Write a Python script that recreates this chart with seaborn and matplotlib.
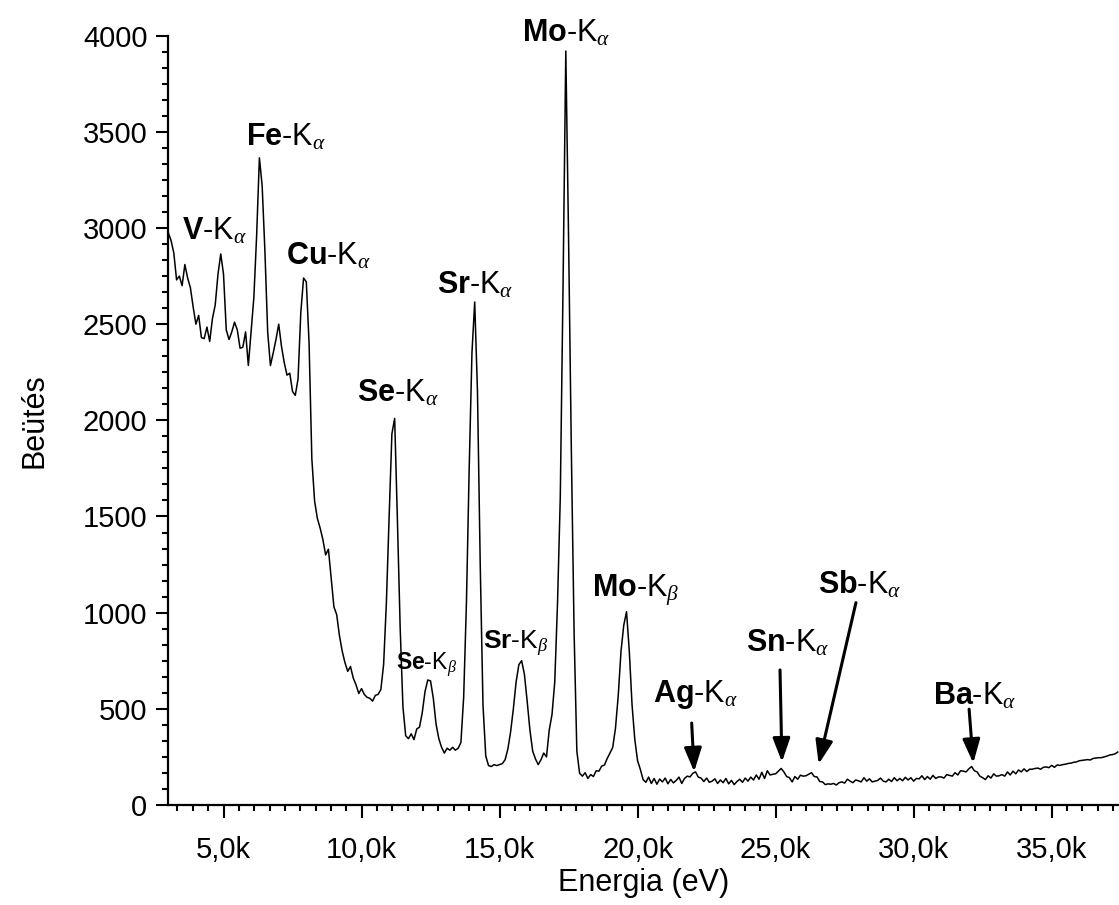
import numpy as np
import seaborn as sns
from matplotlib import pyplot as plt
from matplotlib.ticker import MultipleLocator, AutoMinorLocator, FuncFormatter

# * XRF spectrum, one count value per 100 eV channel, starting at 3000 eV
E_START = 3000
E_STEP = 100
counts = [
    2975, 2935, 2870, 2730, 2750, 2700, 2810, 2740, 2690, 2590,  # 3k
    2500, 2545, 2430, 2425, 2485, 2410, 2530, 2600, 2760, 2865,  # 4k
    2760, 2470, 2420, 2460, 2510, 2470, 2375, 2380, 2460, 2285,  # 5k
    2460, 2640, 2960, 3365, 3220, 2880, 2460, 2285, 2350, 2420,  # 6k
    2500, 2385, 2300, 2235, 2245, 2150, 2130, 2215, 2560, 2740,  # 7k
    2720, 2400, 1800, 1580, 1490, 1440, 1380, 1300, 1330, 1180,  # 8k
    1030, 990, 880, 800, 740, 695, 720, 660, 625, 580,  # 9k
    605, 575, 560, 555, 540, 570, 575, 600, 730, 1050,  # 10k
    1500, 1930, 2010, 1480, 920, 510, 360, 345, 370, 340,  # 11k
    395, 405, 480, 590, 650, 645, 555, 420, 345, 300,  # 12k
    270, 295, 285, 300, 285, 295, 325, 560, 1050, 1750,  # 13k
    2350, 2615, 2150, 1250, 520, 255, 205, 200, 210, 205,  # 14k
    210, 215, 235, 290, 380, 500, 640, 730, 750, 680,  # 15k
    540, 390, 280, 240, 210, 235, 270, 250, 390, 470,  # 16k
    640, 1050, 1600, 2700, 3920, 2950, 1850, 900, 280, 165,  # 17k
    150, 168, 138, 158, 148, 178, 176, 202, 208, 242,  # 18k
    270, 300, 400, 570, 800, 935, 1005, 800, 520, 340,  # 19k
    230, 185, 132, 118, 145, 112, 138, 108, 135, 120,  # 20k
    140, 110, 133, 115, 128, 145, 112, 138, 150, 146,  # 21k
    165, 172, 145, 140, 122, 140, 118, 124, 136, 112,  # 22k
    130, 116, 138, 110, 128, 106, 122, 134, 118, 140,  # 23k
    124, 145, 130, 156, 134, 170, 138, 178, 156, 160,  # 24k
    162, 176, 190, 172, 148, 142, 120, 148, 134, 155,  # 25k
    150, 152, 160, 168, 148, 146, 122, 120, 106, 110,  # 26k
    108, 112, 104, 116, 120, 114, 134, 124, 116, 130,  # 27k
    126, 120, 142, 124, 136, 120, 124, 128, 140, 124,  # 28k
    120, 134, 122, 142, 126, 138, 126, 144, 130, 142,  # 29k
    124, 138, 136, 152, 132, 148, 134, 154, 138, 146,  # 30k
    146, 140, 158, 154, 150, 168, 156, 178, 176, 172,  # 31k
    188, 200, 178, 172, 150, 142, 132, 152, 140, 162,  # 32k
    150, 152, 158, 150, 172, 156, 176, 162, 182, 172,  # 33k
    188, 174, 186, 186, 190, 192, 186, 196, 198, 194,  # 34k
    206, 196, 208, 206, 210, 212, 216, 218, 222, 224,  # 35k
    230, 232, 234, 236, 234, 242, 244, 246, 246, 250,  # 36k
    254, 260, 262, 266, 276,  # 37k
]
energy = E_START + E_STEP * np.arange(len(counts))

# * peak labels: bold element, line, label x [eV], label baseline y [counts], font size
label_elem = ["V", "Fe", "Cu", "Se", "Sr", "Mo", "Se", "Sr", "Mo", "Ag", "Sn", "Sb", "Ba"]
label_line = ["alpha", "alpha", "alpha", "alpha", "alpha", "alpha", "beta", "beta", "beta",
              "alpha", "alpha", "alpha", "alpha"]
label_x = [3480, 5830, 7260, 9830, 12730, 15810, 11240, 14400, 18340, 20560, 23910, 26540, 30710]
label_y = [2938, 3427, 2808, 2096, 2662, 3968, 702, 810, 1082, 537, 797, 1101, 525]
label_size = [22, 22, 22, 22, 22, 22, 16.5, 19, 22, 22, 22, 22, 22]

# * arrows for the weak lines: tail -> head in data coords
arrow_tail_x = [21960, 25160, 27910, 32010]
arrow_tail_y = [426, 702, 1052, 498]
arrow_head_x = [22050, 25230, 26560, 32160]
arrow_head_y = [173, 224, 213, 218]

sns.set_theme(style="ticks")
plt.rcParams["font.family"] = ["Liberation Sans", "DejaVu Sans"]
plt.rcParams["mathtext.fontset"] = "custom"
plt.rcParams["mathtext.rm"] = "Liberation Sans"
plt.rcParams["mathtext.bf"] = "Liberation Sans:bold"
plt.rcParams["mathtext.it"] = "Liberation Serif:italic"

fig = plt.figure(figsize=(11.19, 9.05), dpi=100)
ax = fig.add_axes([0.1504, 0.1105, 0.8496, 0.8501])

sns.lineplot(x=energy, y=counts, ax=ax, color="black", lw=1.1, estimator=None)

ax.set_xlim(3000, 37440)
ax.set_ylim(0, 4000)
sns.despine(ax=ax)
for side in ["left", "bottom"]:
    ax.spines[side].set_linewidth(1.6)
    ax.spines[side].set_color("black")

ax.xaxis.set_major_locator(MultipleLocator(5000))
ax.xaxis.set_minor_locator(AutoMinorLocator(9))
ax.yaxis.set_major_locator(MultipleLocator(500))
ax.yaxis.set_minor_locator(AutoMinorLocator(6))
ax.xaxis.set_major_formatter(FuncFormatter(lambda v, p: f"{v / 1000:.1f}k".replace(".", ",")))
ax.tick_params(which="major", length=9, width=1.5, color="black", labelsize=21, labelcolor="black")
ax.tick_params(which="minor", length=4.5, width=1.5, color="black")
ax.tick_params(axis="x", which="major", pad=13)
ax.tick_params(axis="y", which="major", pad=6)

ax.set_xlabel("Energia (eV)", fontsize=22, labelpad=3, color="black")
ax.set_ylabel("Beütés", fontsize=22, labelpad=24, color="black")

# * peak labels
for el, ln, x, y, fs in zip(label_elem, label_line, label_x, label_y, label_size):
    ax.text(x, y, rf"$\mathbf{{{el}}}$-$\mathrm{{K}}_{{\{ln}}}$", fontsize=fs,
            ha="left", va="baseline", color="black", clip_on=False)

# * arrows
for tx, ty, hx, hy in zip(arrow_tail_x, arrow_tail_y, arrow_head_x, arrow_head_y):
    ax.annotate("", xy=(hx, hy), xytext=(tx, ty),
                arrowprops=dict(arrowstyle="-|>,head_length=0.6,head_width=0.22", lw=2.2,
                                color="black", mutation_scale=24, shrinkA=0, shrinkB=0))

fig.savefig("out.png", dpi=100)
plt.close()
